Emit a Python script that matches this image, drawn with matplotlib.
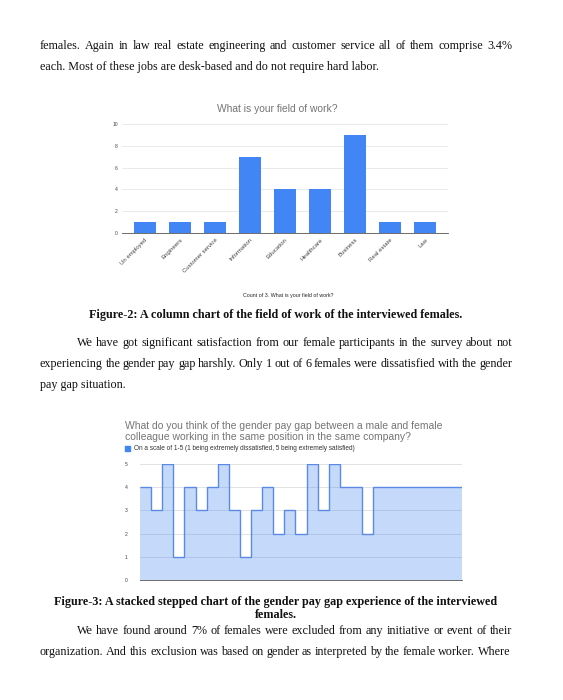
import numpy as np
import matplotlib
matplotlib.use("Agg")
import matplotlib.pyplot as plt

# データ
fields = ["Un employed", "Engineers", "Customer service", "Information", "Education",
          "Healthcare", "Business", "Real estate", "Law"]
field_counts = [1, 1, 1, 7, 4, 4, 9, 1, 1]

paygap_scores = [4, 3, 5, 1, 4, 3, 4, 5, 3, 1, 3, 4, 2, 3, 2, 5, 3, 5, 4, 4, 2,
                 4, 4, 4, 4, 4, 4, 4, 4]

W, H = 563, 700
BLUE = "#4285f4"
GRAY_TXT = "#757575"
SERIF = "Liberation Serif"
SANS = "Liberation Sans"

plt.rcParams["font.family"] = [SANS, "DejaVu Sans"]

fig = plt.figure(figsize=(W / 100, H / 100), dpi=100)
fig.patch.set_facecolor("white")
renderer = fig.canvas.get_renderer()


def px_axes(left, top, right, bottom):
    # ピクセル座標からaxesを作る
    return fig.add_axes([left / W, 1 - bottom / H, (right - left) / W, (bottom - top) / H])


def put(x, y, s, **kw):
    return fig.text(x / W, 1 - y / H, s, **kw)


def justify(x0, x1, y, line, size=8.7, weight="normal"):
    # 両端揃えで一行を描く
    words = line.split()
    widths = []
    for w in words:
        t = put(0, 0, w, fontsize=size, family=SERIF, weight=weight)
        widths.append(t.get_window_extent(renderer).width)
        t.remove()
    gap = (x1 - x0 - sum(widths)) / (len(words) - 1)
    x = x0
    for w, wd in zip(words, widths):
        put(x, y, w, fontsize=size, family=SERIF, weight=weight, va="center", color="#111111")
        x += wd + gap


def plain(x, y, line, size=8.7, weight="normal", ha="left"):
    put(x, y, line, fontsize=size, family=SERIF, weight=weight, va="center", ha=ha,
        color="#111111")


# 本文
justify(40, 512, 46, "females. Again in law real estate engineering and customer service all of them comprise 3.4%")
plain(40, 67, "each. Most of these jobs are desk-based and do not require hard labor.")

plain(276, 315, "Figure-2: A column chart of the field of work of the interviewed females.",
      weight="bold", ha="center")
justify(77, 512, 343, "We have got significant satisfaction from our female participants in the survey about not")
justify(40, 512, 364, "experiencing the gender pay gap harshly. Only 1 out of 6 females were dissatisfied with the gender")
plain(40, 385, "pay gap situation.")

plain(276, 602, "Figure-3: A stacked stepped chart of the gender pay gap experience of the interviewed",
      weight="bold", ha="center")
plain(276, 615, "females.", weight="bold", ha="center")
justify(77, 512, 631, "We have found around 7% of females were excluded from any initiative or event of their")
justify(40, 510, 652, "organization. And this exclusion was based on gender as interpreted by the female worker. Where")

# グラフ1: 縦棒グラフ
ax1 = px_axes(122, 124, 448, 233)
x = np.arange(len(fields))
ax1.bar(x, field_counts, width=0.63, color=BLUE, zorder=3)
ax1.set_xlim(-0.65, len(fields) - 0.35)
ax1.set_ylim(0, 10)
ax1.set_yticks(range(0, 11, 2))
ax1.grid(axis="y", color="#e6e6e6", linewidth=0.6, zorder=0)
for s in ["top", "right", "left"]:
    ax1.spines[s].set_visible(False)
ax1.spines["bottom"].set_color("#555555")
ax1.spines["bottom"].set_linewidth(0.6)
ax1.tick_params(length=0, labelsize=3.6, labelcolor="#444444", pad=3)
ax1.set_xticks(x)
ax1.set_xticklabels(fields, rotation=45, ha="right", rotation_mode="anchor", fontsize=4.3)
ax1.tick_params(axis="x", pad=3)
put(277, 109, "What is your field of work?", fontsize=7.4, color=GRAY_TXT,
    ha="center", va="center")
put(288, 296, "Count of 3. What is your field of work?", fontsize=3.8,
    color="#222222", ha="center", va="center")

# グラフ2: ステップエリアチャート
ax2 = px_axes(140, 464, 462, 580)
edges = np.arange(len(paygap_scores) + 1)
ax2.stairs(paygap_scores, edges, fill=True, color=BLUE, alpha=0.3, linewidth=0, zorder=2)
ax2.stairs(paygap_scores, edges, baseline=None, color="#5a8ae6", linewidth=1.0, zorder=3)
ax2.set_xlim(0, len(paygap_scores))
ax2.set_ylim(0, 5)
ax2.set_yticks(range(0, 6))
ax2.set_xticks([])
ax2.grid(axis="y", color="#dddddd", linewidth=0.6, zorder=0)
for s in ["top", "right", "left"]:
    ax2.spines[s].set_visible(False)
ax2.spines["bottom"].set_color("#555555")
ax2.spines["bottom"].set_linewidth(0.6)
ax2.tick_params(length=0, labelsize=3.6, labelcolor="#444444", pad=9)

put(125, 426, "What do you think of the gender pay gap between a male and female",
    fontsize=7.5, color=GRAY_TXT, va="center")
put(125, 437.5, "colleague working in the same position in the same company?",
    fontsize=7.5, color=GRAY_TXT, va="center")
fig.patches.append(plt.Rectangle((125 / W, 1 - 451 / H), 5 / W, 5 / H, color=BLUE,
                                 transform=fig.transFigure, figure=fig))
put(134, 448.5, "On a scale of 1-5 (1 being extremely dissatisfied, 5 being extremely satisfied)",
    fontsize=4.7, color="#333333", va="center")

fig.savefig("out.png", dpi=100, facecolor="white")
